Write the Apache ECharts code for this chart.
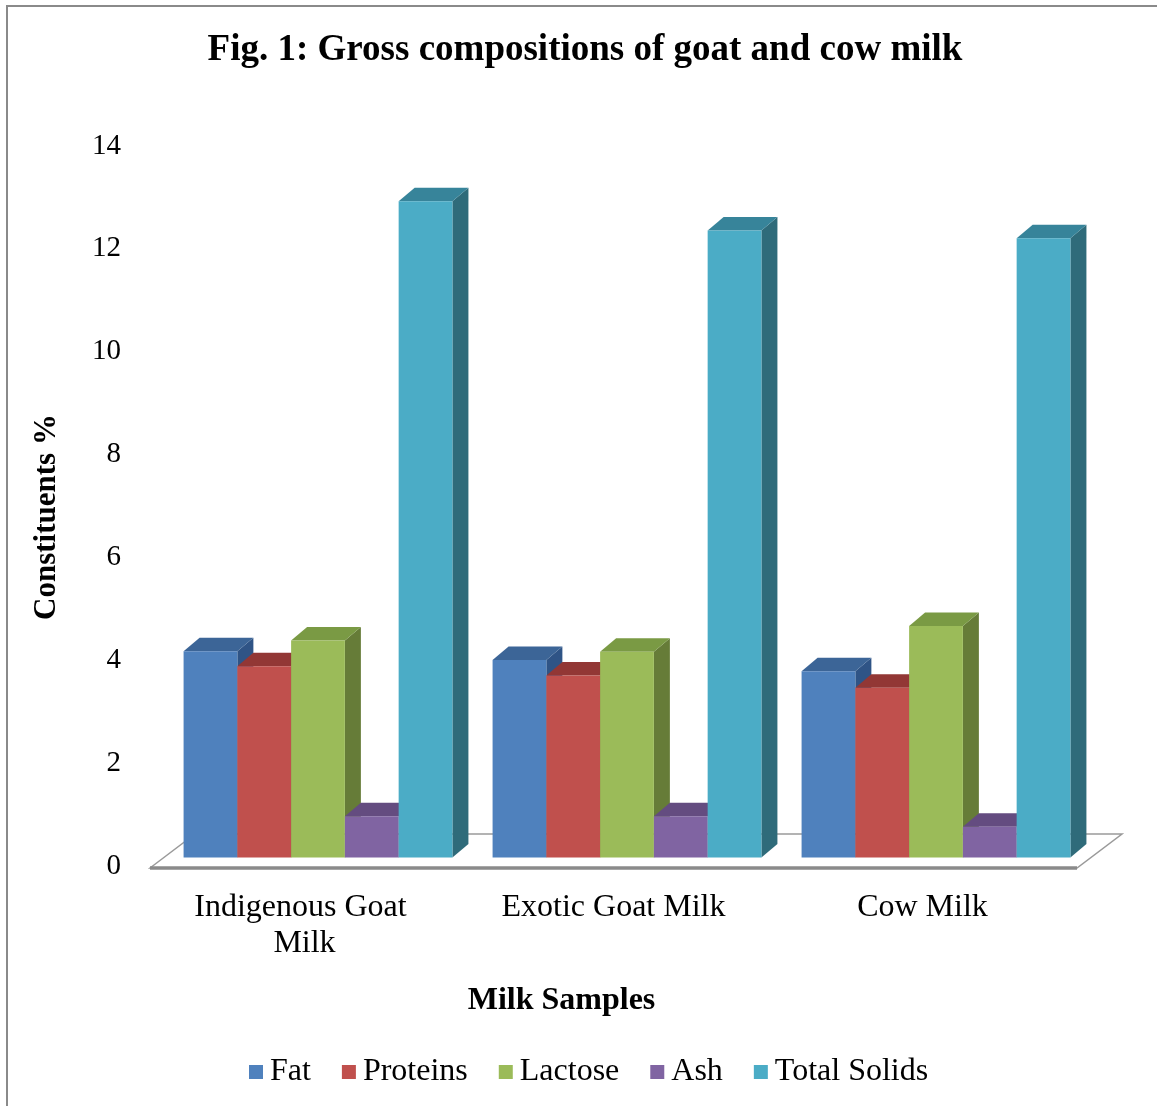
<!DOCTYPE html>
<html>
<head>
<meta charset="utf-8">
<title>Gross compositions of goat and cow milk</title>
<script src="https://cdn.jsdelivr.net/npm/echarts@6/dist/echarts.min.js"></script>
<style>
  html, body { margin: 0; padding: 0; background: #fff; }
  #chart { width: 1157px; height: 1106px; }
  #frame { position: absolute; left: 6px; top: 5px; width: 1151px; height: 1101px;
           border-left: 2px solid #8a8a8a; border-top: 2px solid #8a8a8a; pointer-events: none; }
</style>
</head>
<body>
<div id="chart"></div>
<div id="frame"></div>
<script>
// Milk samples and their gross composition (%)
const categories = ['Indigenous Goat Milk', 'Exotic Goat Milk', 'Cow Milk'];
const seriesNames = ['Fat', 'Proteins', 'Lactose', 'Ash', 'Total Solids'];
const fat = [4.01, 3.84, 3.62];
const proteins = [3.72, 3.54, 3.30];
const lactose = [4.22, 4.00, 4.50];
const ash = [0.80, 0.80, 0.60];
const totalSolids = [12.76, 12.19, 12.04];
const yTicks = [0, 2, 4, 6, 8, 10, 12, 14];

const seriesValues = [fat, proteins, lactose, ash, totalSolids];

// face colours: front, top, side
const palettes = [
  { front: '#4F81BD', top: '#3C6597', side: '#2F5486' },
  { front: '#C0504D', top: '#923735', side: '#7E2E2C' },
  { front: '#9BBB59', top: '#7A9A44', side: '#667C38' },
  { front: '#8064A2', top: '#644C80', side: '#533E6C' },
  { front: '#4BACC6', top: '#37849A', side: '#2F6B7A' }
];

// 3D look: bar depth, floor depth, and where the bars stand on the floor
const BAR_FRACTION = 0.174;
const DEPTH_X = 16, DEPTH_Y = -13.5;
const FLOOR_X = 45, FLOOR_Y = -34;
const STAND_X = 13.5, STAND_Y = -8.5;

function barRenderer(idx) {
  const pal = palettes[idx];
  return function (params, api) {
    const cat = api.value(0);
    const val = api.value(1);
    const base = api.coord([cat, 0]);
    const top = api.coord([cat, val]);
    const band = api.size([1, 0])[0];
    const w = band * BAR_FRACTION;
    const x0 = base[0] - 2.5 * w + idx * w + STAND_X;
    const x1 = x0 + w;
    const yb = base[1] + STAND_Y;
    const yt = top[1] + STAND_Y;
    return {
      type: 'group',
      children: [
        { type: 'polygon', shape: { points: [[x1, yt], [x1 + DEPTH_X, yt + DEPTH_Y], [x1 + DEPTH_X, yb + DEPTH_Y], [x1, yb]] },
          style: { fill: pal.side } },
        { type: 'polygon', shape: { points: [[x0, yt], [x0 + DEPTH_X, yt + DEPTH_Y], [x1 + DEPTH_X, yt + DEPTH_Y], [x1, yt]] },
          style: { fill: pal.top } },
        { type: 'rect', shape: { x: x0, y: yt, width: w, height: yb - yt },
          style: { fill: pal.front } }
      ]
    };
  };
}

function floorRenderer(params, api) {
  const cs = params.coordSys;
  const xl = cs.x, xr = cs.x + cs.width;
  const y0 = api.coord([0, 0])[1] + 2;
  return {
    type: 'group',
    children: [
      { type: 'polygon',
        shape: { points: [[xl, y0], [xl + FLOOR_X, y0 + FLOOR_Y], [xr + FLOOR_X, y0 + FLOOR_Y], [xr, y0]] },
        style: { fill: '#ffffff', stroke: '#9a9a9a', lineWidth: 1.5 } },
      { type: 'line', shape: { x1: xl, y1: y0, x2: xr, y2: y0 },
        style: { stroke: '#8a8a8a', lineWidth: 3.5 } }
    ]
  };
}

const serif = '"Liberation Serif", "Times New Roman", serif';

const series = [{
  name: 'floor',
  type: 'custom',
  renderItem: floorRenderer,
  data: [[0, 0]],
  silent: true,
  z: 1
}].concat(seriesNames.map(function (name, i) {
  return {
    name: name,
    type: 'custom',
    renderItem: barRenderer(i),
    itemStyle: { color: palettes[i].front },
    encode: { x: 0, y: 1 },
    data: seriesValues[i].map(function (v, c) { return [c, v]; }),
    z: 2 + i
  };
}));

const chart = echarts.init(document.getElementById('chart'), null, { renderer: 'canvas' });
chart.setOption({
  animation: false,
  backgroundColor: '#ffffff',
  title: {
    text: 'Fig. 1: Gross compositions of goat and cow milk',
    left: 580, top: 27, textAlign: 'center',
    textStyle: { fontFamily: serif, fontWeight: 'bold', fontSize: 37, color: '#000' }
  },
  legend: {
    data: seriesNames,
    top: 1051, left: 244,
    icon: 'rect', itemWidth: 14, itemHeight: 14, itemGap: 31,
    textStyle: { fontFamily: serif, fontSize: 32, color: '#000', padding: [0, 0, 0, 2] }
  },
  grid: { left: 150, right: 80, top: 146, bottom: 240, containLabel: false },
  xAxis: {
    type: 'category',
    data: categories,
    name: 'Milk Samples',
    nameLocation: 'middle',
    nameGap: 119,
    nameTextStyle: { fontFamily: serif, fontWeight: 'bold', fontSize: 32, color: '#000', padding: [0, 0, 0, -104] },
    axisLine: { show: false },
    axisTick: { show: false },
    axisLabel: {
      fontFamily: serif, fontSize: 32, color: '#000', margin: 24,
      lineHeight: 36, width: 250, overflow: 'break', interval: 0
    }
  },
  yAxis: {
    type: 'value',
    min: 0, max: 14, interval: 2,
    name: 'Constituents %',
    nameLocation: 'middle',
    nameGap: 88,
    nameTextStyle: { fontFamily: serif, fontWeight: 'bold', fontSize: 31, color: '#000', padding: [0, 22, 0, 0] },
    axisLine: { show: false },
    axisTick: { show: false },
    splitLine: { show: false },
    axisLabel: {
      fontFamily: serif, fontSize: 29, color: '#000', margin: 29,
      formatter: function (v) { return yTicks.indexOf(v) >= 0 ? String(v) : ''; }
    }
  },
  series: series
});
</script>
</body>
</html>
